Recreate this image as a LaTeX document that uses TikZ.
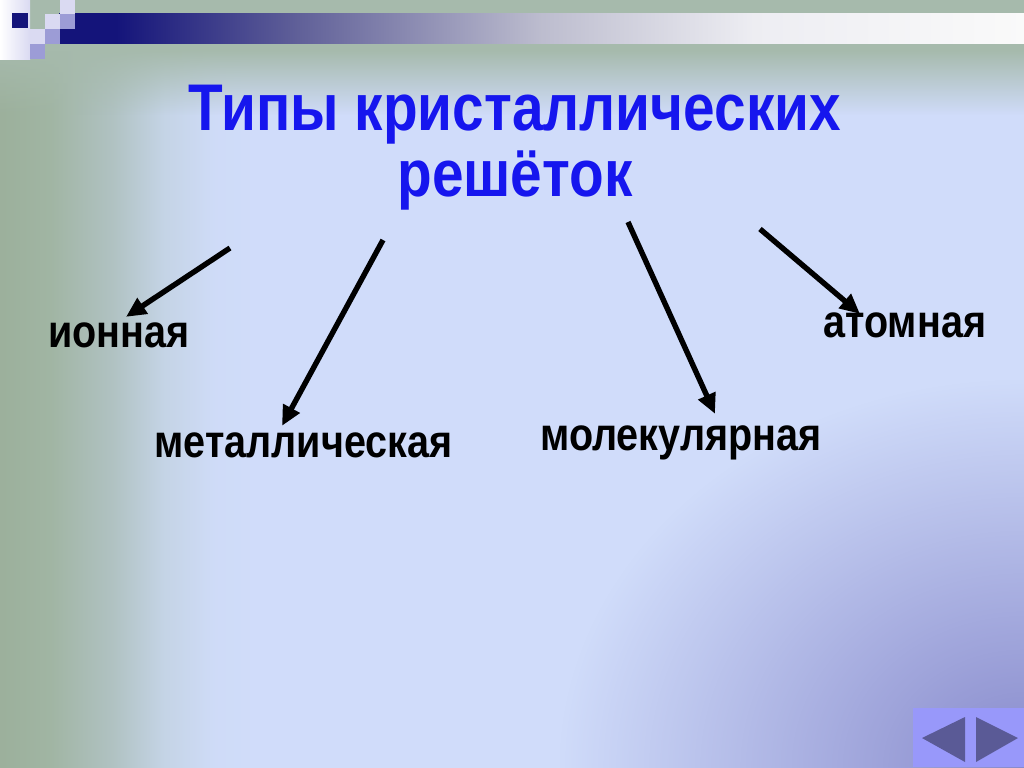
\documentclass[tikz,border=0pt]{standalone}
\usepackage{fontspec}
\usetikzlibrary{arrows.meta,calc,fadings}
\newfontfamily\slidefont[FakeStretch=0.86]{Liberation Sans}
\definecolor{mytitleblue}{RGB}{22,22,238}
\definecolor{mytopgreen}{RGB}{166,186,172}
\definecolor{mylav}{RGB}{218,218,242}
\definecolor{mymidlav}{RGB}{156,156,214}
\definecolor{mynavy}{RGB}{20,20,122}
\definecolor{mydeep}{RGB}{136,138,204}
\definecolor{mybutton}{RGB}{152,152,250}
\definecolor{mybuttontri}{RGB}{90,90,150}
\pgfdeclarehorizontalshading{slidebg}{100bp}{rgb(0bp)=(0.61,0.69,0.61); rgb(25bp)=(0.61,0.69,0.61);
  rgb(27.5bp)=(0.63,0.71,0.64); rgb(30.5bp)=(0.69,0.76,0.76); rgb(33bp)=(0.77,0.83,0.90);
  rgb(35.5bp)=(0.81,0.86,0.97); rgb(37.5bp)=(0.816,0.863,0.98); rgb(100bp)=(0.816,0.863,0.98)}
\pgfdeclarehorizontalshading{navbar}{100bp}{rgb(0bp)=(0.08,0.08,0.48); rgb(28bp)=(0.08,0.08,0.48);
  rgb(37.5bp)=(0.38,0.38,0.60); rgb(50bp)=(0.74,0.74,0.81); rgb(61bp)=(0.93,0.93,0.95);
  rgb(75bp)=(0.98,0.98,0.98); rgb(100bp)=(0.98,0.98,0.98)}
\tikzfading[name=fadecorner, inner color=transparent!0, outer color=transparent!100]
\tikzfading[name=fadedown, top color=transparent!0, bottom color=transparent!100]
\tikzset{>=latex}
\tikzset{
  arr/.style={-{Triangle[length=10pt,width=9pt]},line width=2.7pt},
  typename/.style={anchor=base west,inner sep=0pt,
    font=\slidefont\bfseries\fontsize{23}{27}\selectfont},
  titlename/.style={anchor=north,inner sep=0pt,align=center,text=mytitleblue,
    font=\slidefont\bfseries\fontsize{33}{33}\selectfont}
}

\begin{document}
\begin{tikzpicture}[x=0.5pt,y=-0.5pt]

  % define to change easily
  \def\slideW{1024}
  \def\slideH{767}

  \useasboundingbox (0,0) rectangle (\slideW,\slideH);
  \clip (0,0) rectangle (\slideW,\slideH);

  % background
  \shade[shading=slidebg] (0,0) rectangle (\slideW,\slideH);
  \fill[mydeep,path fading=fadecorner] (560,380) rectangle (1488,1154);
  \fill[mytopgreen] (0,0) rectangle (\slideW,50);
  \fill[mytopgreen,path fading=fadedown] (0,50) rectangle (\slideW,115);

  % top bar and squares
  \shade[shading=navbar] (59,13) rectangle (\slideW,43);
  \shade[left color=white,right color=mylav] (0,0) rectangle (30,59);
  \fill[mynavy] (12,13) rectangle (28,28);
  \fill[mylav] (30,29) rectangle (45,44);
  \fill[mymidlav] (30,44) rectangle (45,59);
  \fill[mylav] (45,14) rectangle (60,29);
  \fill[mymidlav] (45,29) rectangle (60,44);
  \fill[mylav] (60,0) rectangle (75,14);
  \fill[mymidlav] (60,14) rectangle (75,29);

  % texts
  \node[titlename] (title) at (515,85) {Типы кристаллических\\решёток};
  \node[typename] (ion) at (48,347) {ионная};
  \node[typename] (met) at (154,457) {металлическая};
  \node[typename] (mol) at (540,450) {молекулярная};
  \node[typename] (atom) at (823,337) {атомная};

  % arrows
  \coordinate (s1) at (230,248);
  \coordinate (s2) at (383,240);
  \coordinate (s3) at (628,222);
  \coordinate (s4) at (760,229);
  \draw[arr] (s1) -- ($(ion.north west)+(78,-5)$);
  \draw[arr] (s2) -- ($(met.north west)+(128,-6)$);
  \draw[arr] (s3) -- ($(mol.north west)+(175,-11)$);
  \draw[arr] (s4) -- ($(atom.north west)+(37,2)$);

  % navigation buttons
  \fill[mybutton] (913,708) rectangle (\slideW,\slideH);
  \fill[mybuttontri] (922,738) -- (965,717) -- (965,762) -- cycle;
  \fill[mybuttontri] (1018,738) -- (976,717) -- (976,762) -- cycle;

\end{tikzpicture}
\end{document}
